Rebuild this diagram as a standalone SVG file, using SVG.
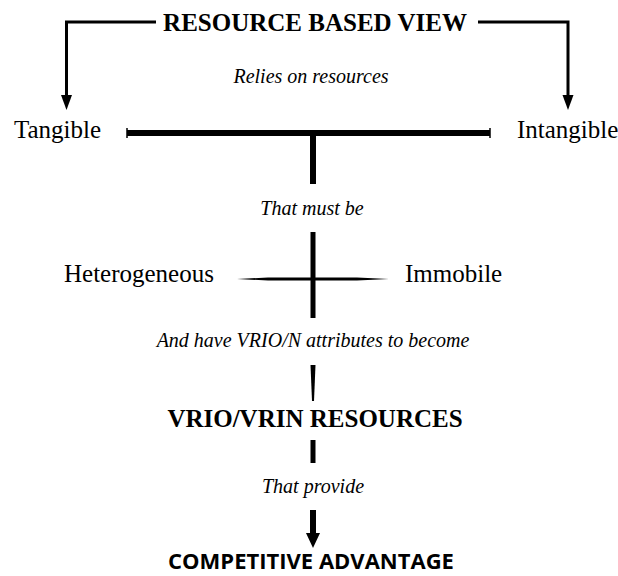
<svg xmlns="http://www.w3.org/2000/svg" width="618" height="576" viewBox="0 0 618 576">
<style>
.t{font-family:"Liberation Serif","Times New Roman",serif;fill:#000}
.b{font-weight:bold;font-size:25px}
.i{font-style:italic;font-size:20px}
.n{font-size:25px}
.s{font-family:"Open Sans","Liberation Sans",sans-serif;font-weight:bold;font-size:22px;fill:#000}
.ln{stroke:#000;fill:none}
.ah{fill:#000}
</style>
<g id="rbv"><text class="t b" x="315" y="31" text-anchor="middle">RESOURCE BASED VIEW</text></g>
<g id="relies"><text class="t i" x="311" y="83" text-anchor="middle">Relies on resources</text></g>
<g id="tangible"><text class="t n" x="14" y="138">Tangible</text></g>
<g id="intangible"><text class="t n" x="517" y="138">Intangible</text></g>
<g id="mustbe"><text class="t i" x="312" y="215" text-anchor="middle">That must be</text></g>
<g id="hetero"><text class="t n" x="64" y="282">Heterogeneous</text></g>
<g id="immobile"><text class="t n" x="405" y="282">Immobile</text></g>
<g id="vrioattr"><text class="t i" x="313" y="347" text-anchor="middle">And have VRIO/N attributes to become</text></g>
<g id="vrio"><text class="t b" x="315" y="427" text-anchor="middle">VRIO/VRIN RESOURCES</text></g>
<g id="provide"><text class="t i" x="313" y="493" text-anchor="middle">That provide</text></g>
<g id="ca"><text class="s" x="311" y="569" text-anchor="middle">COMPETITIVE ADVANTAGE</text></g>
<g id="connectors">
<path class="ln" stroke-width="3" d="M156,22 H66.5 V96"/>
<path class="ah" d="M61,95 H72 L66.5,110 Z"/>
<path class="ln" stroke-width="3" d="M478,22 H568 V96"/>
<path class="ah" d="M562.5,95 H573.5 L568,110 Z"/>
<line class="ln" x1="127" y1="133" x2="490" y2="133" stroke-width="6"/>
<line class="ln" x1="127" y1="128" x2="127" y2="138" stroke-width="1.5"/>
<line class="ln" x1="490" y1="128" x2="490" y2="138" stroke-width="1.5"/>
<line class="ln" x1="313" y1="133" x2="313" y2="184" stroke-width="6"/>
<line class="ln" x1="313" y1="232" x2="313" y2="318" stroke-width="5"/>
<path d="M237,279 L268,277.5 H357 L389,279 L357,280.5 H268 Z" fill="#000"/>
<path d="M310.5,365 H315.5 L314,401 H312 Z" fill="#000"/>
<line class="ln" x1="313" y1="440" x2="313" y2="463" stroke-width="5"/>
<line class="ln" x1="313" y1="510" x2="313" y2="535" stroke-width="6"/>
<path class="ah" d="M306,533 H320 L313,548 Z"/>
</g>
</svg>
